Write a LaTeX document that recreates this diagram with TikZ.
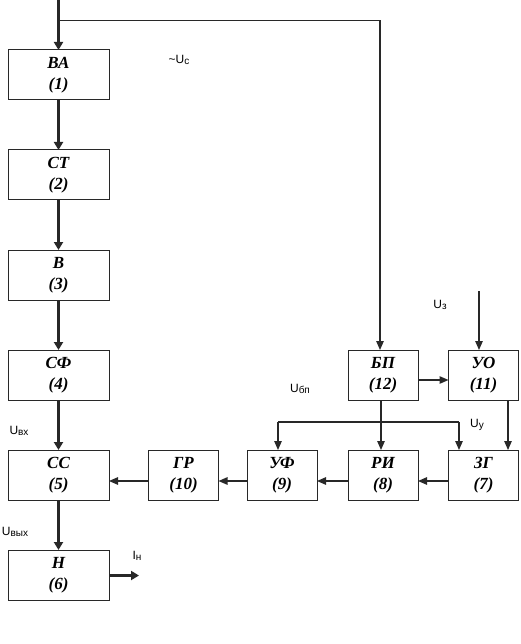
\documentclass[tikz,border=0pt]{standalone}
\usepackage{fontspec}
\setmainfont{Liberation Serif}
\newfontfamily\lblfont{Liberation Sans}
\usetikzlibrary{arrows.meta, positioning}
\definecolor{lineblack}{RGB}{40, 40, 40}

% label with small subscript
\newcommand{\sig}[2]{{\fontsize{12}{14}\selectfont #1}\raisebox{-1pt}{\fontsize{10}{12}\selectfont #2}}

\begin{document}
\begin{tikzpicture}[x=1pt, y=-1pt,
    blk/.style={draw=lineblack, line width=1pt, minimum height=50pt, inner sep=0pt, outer sep=0pt,
      align=center, font=\fontsize{17}{21}\selectfont\bfseries\itshape},
    wideblk/.style={blk, minimum width=101pt},
    narrowblk/.style={blk, minimum width=70pt},
    thickarr/.style={-{Triangle[length=8pt, width=9pt]}, line width=2.6pt, lineblack},
    thinarr/.style={-{Triangle[length=9pt, width=7.5pt]}, line width=1.2pt, lineblack},
    lbl/.style={font=\lblfont, inner sep=0pt}]
  \useasboundingbox (0,0) rectangle (520,644);

  % левая колонка
  \node[wideblk] (ba) at (58.5,75) {ВА\\(1)};
  \node[wideblk] (ct) at (58.5,175) {СТ\\(2)};
  \node[wideblk] (v)  at (58.5,275) {В\\(3)};
  \node[wideblk] (sf) at (58.5,375) {СФ\\(4)};
  \node[wideblk] (ss) at (58.5,475) {СС\\(5)};
  \node[wideblk] (n)  at (58.5,575) {Н\\(6)};

  % правая часть
  \node[narrowblk] (gr) at (183.5,475) {ГР\\(10)};
  \node[narrowblk] (uf) at (282,475) {УФ\\(9)};
  \node[narrowblk] (ri) at (383,475) {РИ\\(8)};
  \node[narrowblk] (zg) at (483.5,475) {ЗГ\\(7)};
  \node[narrowblk] (bp) at (383,375) {БП\\(12)};
  \node[narrowblk] (uo) at (483.5,375) {УО\\(11)};

  \coordinate (in) at (58.5,0);
  \coordinate (tap) at (58.5,20.5);
  \coordinate (iout) at (139,575.5);
  \coordinate (zin) at (479,291);
  \coordinate (dl) at (278,422);
  \coordinate (dr) at (459,422);

  % силовой тракт
  \draw[thickarr] (in) -- (ba);
  \draw[thickarr] (ba) -- (ct);
  \draw[thickarr] (ct) -- (v);
  \draw[thickarr] (v) -- (sf);
  \draw[thickarr] (sf) -- (ss);
  \draw[thickarr] (ss) -- (n);
  \draw[thickarr] (n.east |- iout) -- (iout);

  % питание и управление
  \draw[thinarr] (tap) -| ([xshift=-3pt]bp.north);
  \draw[thinarr] (zin) -- (zin |- uo.north);
  \draw[thinarr] ([yshift=-5pt]bp.east) -- ([yshift=-5pt]uo.west);
  \draw[thinarr] ([xshift=24.5pt]uo.south) -- ([xshift=24.5pt]zg.north);
  \draw[thinarr] ([xshift=-2pt]bp.south) -- ([xshift=-2pt]ri.north);
  \draw[line width=1.2pt, lineblack] (dl) -- (dr);
  \draw[thinarr] (dl) -- (dl |- uf.north);
  \draw[thinarr] (dr) -- (dr |- zg.north);

  % обратная цепь
  \draw[thinarr] ([yshift=-6pt]zg.west) -- ([yshift=-6pt]ri.east);
  \draw[thinarr] ([yshift=-6pt]ri.west) -- ([yshift=-6pt]uf.east);
  \draw[thinarr] ([yshift=-6pt]uf.west) -- ([yshift=-6pt]gr.east);
  \draw[thinarr] ([yshift=-6pt]gr.west) -- ([yshift=-6pt]ss.east);

  % подписи
  \node[lbl] (uc) at (179,60) {\sig{\textasciitilde U}{с}};
  \node[lbl] (uvx) at (19,431) {\sig{U}{вх}};
  \node[lbl] (uvyx) at (15,532) {\sig{U}{вых}};
  \node[lbl] (in_lbl) at (137,556) {\sig{I}{н}};
  \node[lbl] (uz) at (440,305) {\sig{U}{з}};
  \node[lbl] (ubp) at (300,389) {\sig{U}{бп}};
  \node[lbl] (uy) at (477,425) {\sig{U}{у}};
\end{tikzpicture}
\end{document}
